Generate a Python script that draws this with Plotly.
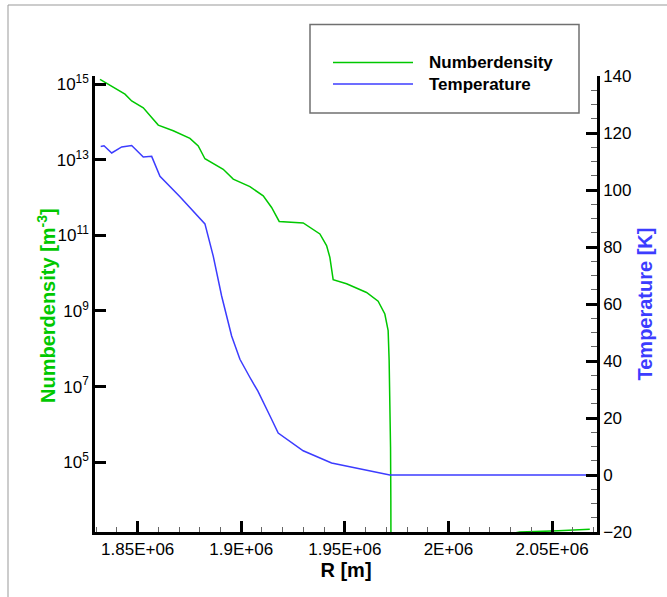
import plotly.graph_objects as go

# Radial profiles: number density (left, log scale) and temperature (right)
r_density = [1831813, 1843874, 1847106, 1852701, 1856754, 1859937, 1867173, 1875229,
             1879233, 1882465, 1891293, 1896117, 1904172, 1910588, 1914640, 1918307,
             1929885, 1937941, 1941173, 1942765, 1944357, 1950821, 1960469, 1966065,
             1969297, 1970889, 1971371, 1971709, 1972047, 1972191, 1972336, 2020000,
             2034421, 2053000, 2068222]
log_density = [15.13, 14.74, 14.56, 14.38, 14.12, 13.92, 13.77, 13.57,
               13.37, 13.03, 12.75, 12.49, 12.29, 12.05, 11.74, 11.37,
               11.33, 11.04, 10.73, 10.42, 9.83, 9.72, 9.49, 9.26,
               8.92, 8.48, 7.69, 6.72, 5.40, 3.99, 1.0, 3.0,
               3.15, 3.18, 3.22]
density = [10 ** v for v in log_density]

r_temp = [1832151, 1833743, 1837458, 1842282, 1847106, 1852701, 1856754, 1860757,
          1870405, 1878462, 1882465, 1886469, 1890522, 1895346, 1899350, 1904656,
          1908033, 1913821, 1917825, 1929885, 1943585, 1971709, 2071560]
temperature = [115.3, 115.5, 113.0, 115.1, 115.6, 111.6, 111.8, 104.8,
               97.6, 91.4, 88.1, 76.8, 62.8, 48.8, 40.6, 33.6,
               29.4, 20.8, 14.7, 8.5, 4.2, 0.0, 0.0]

x_ticks = [1850000, 1900000, 1950000, 2000000, 2050000]
x_labels = ["1.85E+06", "1.9E+06", "1.95E+06", "2E+06", "2.05E+06"]
n_ticks = [1e5, 1e7, 1e9, 1e11, 1e13, 1e15]
n_labels = ["10<sup>5</sup>", "10<sup>7</sup>", "10<sup>9</sup>",
            "10<sup>11</sup>", "10<sup>13</sup>", "10<sup>15</sup>"]
t_ticks = [-20, 0, 20, 40, 60, 80, 100, 120, 140]

GREEN = "#00c800"
BLUE = "#3c3cff"
FONT = "Liberation Sans, Arial, sans-serif"

fig = go.Figure()
fig.add_trace(go.Scatter(x=r_density, y=density, mode="lines", name="Numberdensity",
                         line=dict(color=GREEN, width=1.5), yaxis="y"))
fig.add_trace(go.Scatter(x=r_temp, y=temperature, mode="lines", name="Temperature",
                         line=dict(color=BLUE, width=1.5), yaxis="y2"))

L, R, T, B = 95, 70, 76, 65
W, H = 667, 597
pw, ph = W - L - R, H - T - B


def px(x):
    return (x - L) / pw


def py(y):
    return (H - B - y) / ph


axis_common = dict(showgrid=False, zeroline=False, showline=True, linecolor="black",
                   linewidth=2.5, ticks="inside", tickcolor="black", tickwidth=2.5,
                   ticklen=11, tickfont=dict(family=FONT, size=17, color="black"))

fig.update_layout(
    width=W, height=H,
    margin=dict(l=L, r=R, t=T, b=B),
    paper_bgcolor="white", plot_bgcolor="white",
    showlegend=False,
    font=dict(family=FONT, color="black"),
    xaxis=dict(**axis_common, range=[1829400, 2071700], tickvals=x_ticks,
               ticktext=x_labels,
               minor=dict(dtick=10000, ticks="inside", ticklen=5, tickwidth=1,
                          tickcolor="#666666"),
               title=dict(text="<b>R [m]</b>", font=dict(family=FONT, size=20),
                          standoff=0)),
    yaxis=dict(**axis_common, type="log", range=[3.15, 15.22], tickvals=n_ticks,
               ticktext=n_labels),
    yaxis2=dict(**axis_common, overlaying="y", side="right", range=[-20, 140],
                tickvals=t_ticks,
                minor=dict(dtick=5, ticks="inside", ticklen=6, tickwidth=1,
                           tickcolor="#666666"),
                title=dict(text="<b>Temperature [K]</b>",
                           font=dict(family=FONT, size=20, color=BLUE), standoff=8)),
)

# Left axis title, placed beside the tick labels
fig.add_annotation(xref="paper", yref="paper", x=px(46), y=py(306),
                   text="<b>Numberdensity [m<sup>-3</sup>]</b>", textangle=-90,
                   showarrow=False, xanchor="center", yanchor="middle",
                   font=dict(family=FONT, size=20, color=GREEN))

# Page frame (left and top edges)
fig.add_shape(type="line", xref="paper", yref="paper", x0=px(8), x1=px(8),
              y0=py(5), y1=py(597), line=dict(color="#999999", width=1))
fig.add_shape(type="line", xref="paper", yref="paper", x0=px(8), x1=px(667),
              y0=py(5), y1=py(5), line=dict(color="#999999", width=1))

# Legend box
fig.add_shape(type="rect", xref="paper", yref="paper", x0=px(310), x1=px(579),
              y0=py(113), y1=py(24.5), line=dict(color="#707070", width=1.5),
              fillcolor="white", layer="above")
for name, color, yy in [("Numberdensity", GREEN, 62.5), ("Temperature", BLUE, 84)]:
    fig.add_shape(type="line", xref="paper", yref="paper", x0=px(333), x1=px(413),
                  y0=py(yy), y1=py(yy), line=dict(color=color, width=1.5),
                  layer="above")
    fig.add_annotation(xref="paper", yref="paper", x=px(427), y=py(yy), text=f"<b>{name}</b>",
                       showarrow=False, xanchor="left", yanchor="middle",
                       font=dict(family=FONT, size=17, color="black"))

fig.write_html("out.html")
